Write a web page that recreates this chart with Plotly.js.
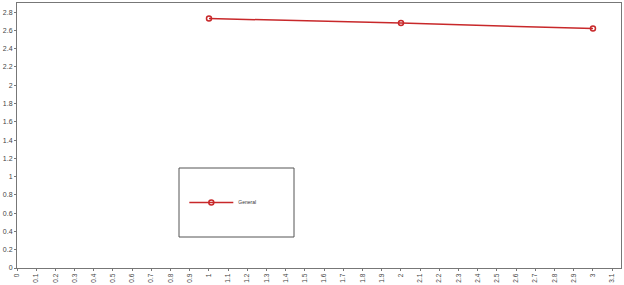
<!DOCTYPE html>
<html><head><meta charset="utf-8">
<script src="https://cdn.plot.ly/plotly-3.0.1.min.js"></script>
<style>body{margin:0;background:#fff}#c{width:624px;height:285px}</style>
</head><body><div id="c"></div>
<script>
const seriesName = "General";
const xValues = [1, 2, 3];
const yValues = [2.73, 2.68, 2.62];

const data = [{
  x: xValues, y: yValues, name: seriesName, type: 'scatter', mode: 'lines+markers',
  line: {color: '#c8282a', width: 1.5},
  marker: {symbol: 'circle-open', size: 5, color: '#c8282a', line: {width: 1.5, color: '#c8282a'}},
  showlegend: true
}];

const layout = {
  width: 624, height: 285,
  margin: {l: 17, r: 3, t: 3, b: 17},
  paper_bgcolor: '#fff', plot_bgcolor: '#fff',
  font: {family: 'Liberation Sans, Arial, sans-serif', color: '#333', size: 7},
  xaxis: {range: [0, 3.146], dtick: 0.1, tick0: 0, tickangle: -90, showgrid: false, zeroline: false,
    showline: true, linecolor: '#777', linewidth: 1, mirror: true, ticks: 'outside', ticklen: 2, tickcolor: '#777',
    tickfont: {size: 6.5, color: '#444'}, automargin: false},
  yaxis: {range: [0, 2.9], dtick: 0.2, tick0: 0, showgrid: false, zeroline: false,
    showline: true, linecolor: '#777', linewidth: 1, mirror: true, ticks: 'outside', ticklen: 2, tickcolor: '#777',
    tickfont: {size: 7, color: '#444'}, automargin: false},
  showlegend: true,
  legend: {x: 0.277, y: 0.247, xanchor: 'left', yanchor: 'middle', bgcolor: 'rgba(0,0,0,0)', borderwidth: 0,
    itemwidth: 44, font: {size: 5, color: '#333'}},
  shapes: [{type: 'rect', xref: 'paper', yref: 'paper',
    x0: (179-17)/604, x1: (294-17)/604, y0: (268-237)/265, y1: (268-168)/265,
    line: {color: '#555', width: 1}, fillcolor: 'rgba(0,0,0,0)'}]
};
Plotly.newPlot('c', data, layout, {displayModeBar: false, staticPlot: true});
</script></body></html>
